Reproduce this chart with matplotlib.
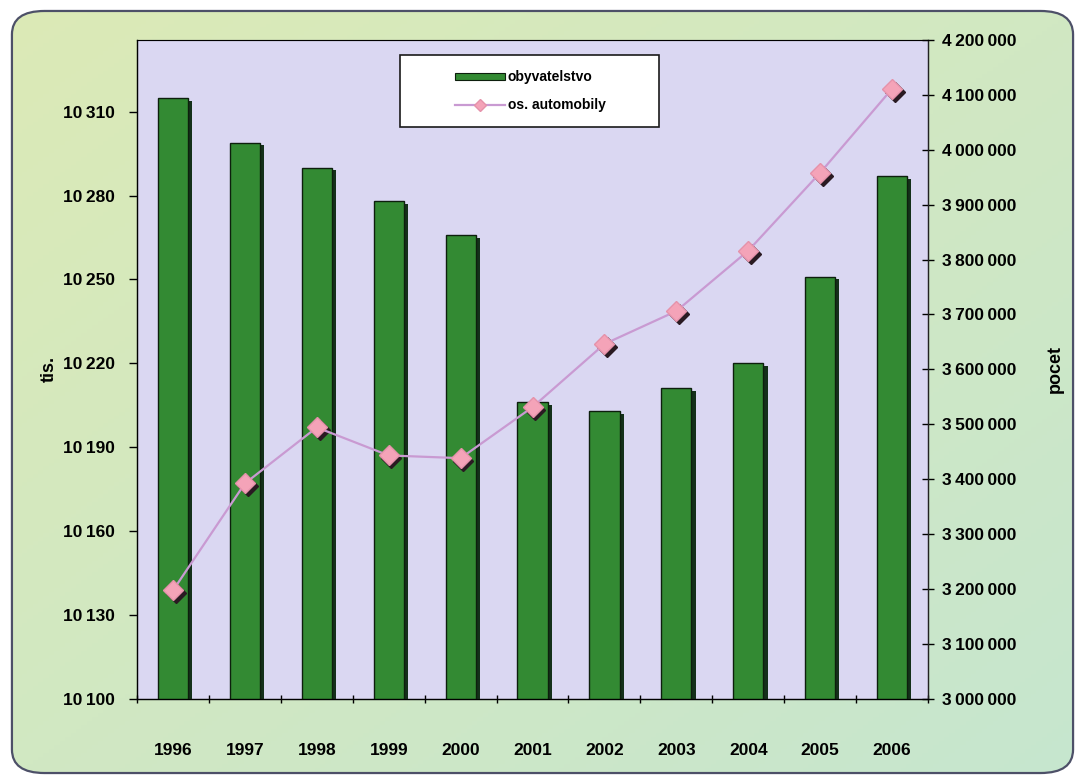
import matplotlib.pyplot as plt
import matplotlib.transforms as mtransforms
import numpy as np
from matplotlib.lines import Line2D
from matplotlib.patches import FancyBboxPatch, Patch, Rectangle

# údaje
roky = ['1996', '1997', '1998', '1999', '2000', '2001',
        '2002', '2003', '2004', '2005', '2006']
obyvatelstvo = [10315, 10299, 10290, 10278, 10266, 10206,
                10203, 10211, 10220, 10251, 10287]
automobily = [3197000, 3392000, 3494000, 3443000, 3438000, 3531000,
              3646000, 3706000, 3816000, 3958000, 4111000]
leve_ticky = [10100, 10130, 10160, 10190, 10220, 10250, 10280, 10310]
prave_ticky = [3000000, 3100000, 3200000, 3300000, 3400000, 3500000, 3600000,
               3700000, 3800000, 3900000, 4000000, 4100000, 4200000]

FONT = ['Liberation Sans Narrow', 'Liberation Sans', 'DejaVu Sans']
plt.rcParams['font.family'] = FONT
plt.rcParams['font.weight'] = 'bold'
plt.rcParams['axes.labelweight'] = 'bold'


def fmt(v):
    return f"{v:,}".replace(',', '\u2009')


fig = plt.figure(figsize=(10.85, 7.84), dpi=100, facecolor='white')

# pozadí celé plochy - zaoblený rámeček s přechodem
bg = fig.add_axes([0, 0, 1, 1])
bg.set_xlim(0, 1)
bg.set_ylim(0, 1)
bg.axis('off')
gx, gy = np.meshgrid(np.linspace(0, 1, 200), np.linspace(1, 0, 200))
c_tl = np.array([0xdc, 0xea, 0xb6]) / 255
c_br = np.array([0xc6, 0xe6, 0xcf]) / 255
t = ((gx + (1 - gy)) / 2)[..., None]
grad = c_tl * (1 - t) + c_br * t
frame = FancyBboxPatch((0.011, 0.014), 0.978, 0.972,
                       boxstyle='round,pad=0,rounding_size=0.03',
                       transform=bg.transAxes, facecolor='none',
                       edgecolor='#4d5068', linewidth=1.6, zorder=3)
bg.add_patch(frame)
img = bg.imshow(grad, extent=[0, 1, 0, 1], aspect='auto', zorder=1)
img.set_clip_path(frame)

# hlavní graf
ax = fig.add_axes([0.1263, 0.109, 0.7290, 0.840])
ax.set_facecolor('#dad7f2')
x = np.arange(len(roky))
sirka = 0.42

shadow = ax.transData + mtransforms.ScaledTranslation(3 / 72, -2 / 72, fig.dpi_scale_trans)
ax.bar(x, np.array(obyvatelstvo) - 10100, bottom=10100, width=sirka,
       color='#14301a', transform=shadow, zorder=2)
ax.bar(x, np.array(obyvatelstvo) - 10100, bottom=10100, width=sirka,
       color='#338a33', edgecolor='#0d1f0d', linewidth=1.0, zorder=3)

ax.set_xlim(-0.5, len(roky) - 0.5)
ax.set_ylim(10100, 10335.7)
ax.set_yticks(leve_ticky)
ax.set_yticklabels([fmt(v) for v in leve_ticky], fontsize=12.5)
ax.set_xticks(x)
ax.set_xticklabels(roky, fontsize=12.5)
ax.set_xticks(np.arange(-0.5, len(roky), 1), minor=True)
ax.tick_params(axis='x', which='major', length=0, pad=32)
ax.tick_params(axis='x', which='minor', length=6, direction='inout', width=1.0)
ax.tick_params(axis='y', length=6, direction='out', width=1.0, pad=10)
for s in ['top', 'right']:
    ax.spines[s].set_color('#6a6a7a')
    ax.spines[s].set_linewidth(0.8)
for s in ['left', 'bottom']:
    ax.spines[s].set_color('#222222')
    ax.spines[s].set_linewidth(1.0)
ax.set_ylabel('tis.', fontsize=13, labelpad=4)

# pravá osa - osobní automobily
ax2 = ax.twinx()
ax2.set_ylim(3000000, 4200000)
ax2.set_yticks(prave_ticky)
ax2.set_yticklabels([fmt(v) for v in prave_ticky], fontsize=12.5)
ax2.tick_params(axis='y', length=8, direction='inout', width=1.0, pad=6)
ax2.spines['right'].set_color('#222222')
ax2.spines['right'].set_linewidth(1.0)
ax2.set_ylabel('pocet', fontsize=13, labelpad=22)

mshadow = ax2.transData + mtransforms.ScaledTranslation(2 / 72, -2 / 72, fig.dpi_scale_trans)
ax2.plot(x, automobily, linestyle='none', marker='D', markersize=10,
         color='#2a1a22', transform=mshadow, zorder=4)
ax2.plot(x, automobily, color='#c99ad2', linewidth=1.6, marker='D',
         markersize=10, markerfacecolor='#f4a3b8', markeredgecolor='#e592aa',
         zorder=5)

# legenda
ax2.add_patch(Rectangle((0.333, 0.868), 0.327, 0.109, transform=ax2.transAxes,
                        facecolor='white', edgecolor='#1a1a1a', linewidth=1.2,
                        zorder=6))
handles = [Patch(facecolor='#338a33', edgecolor='#0d1f0d', linewidth=0.8),
           Line2D([0], [0], color='#c99ad2', linewidth=1.6, marker='D',
                  markersize=6, markerfacecolor='#f4a3b8',
                  markeredgecolor='#e592aa')]
leg = ax2.legend(handles, ['obyvatelstvo', 'os. automobily'],
                 loc='center', bbox_to_anchor=(0.497, 0.922), frameon=False,
                 fontsize=10, handlelength=3.6, handleheight=0.5,
                 handletextpad=0.2, labelspacing=1.0)
leg.set_zorder(7)

fig.savefig('out.png', dpi=100)
